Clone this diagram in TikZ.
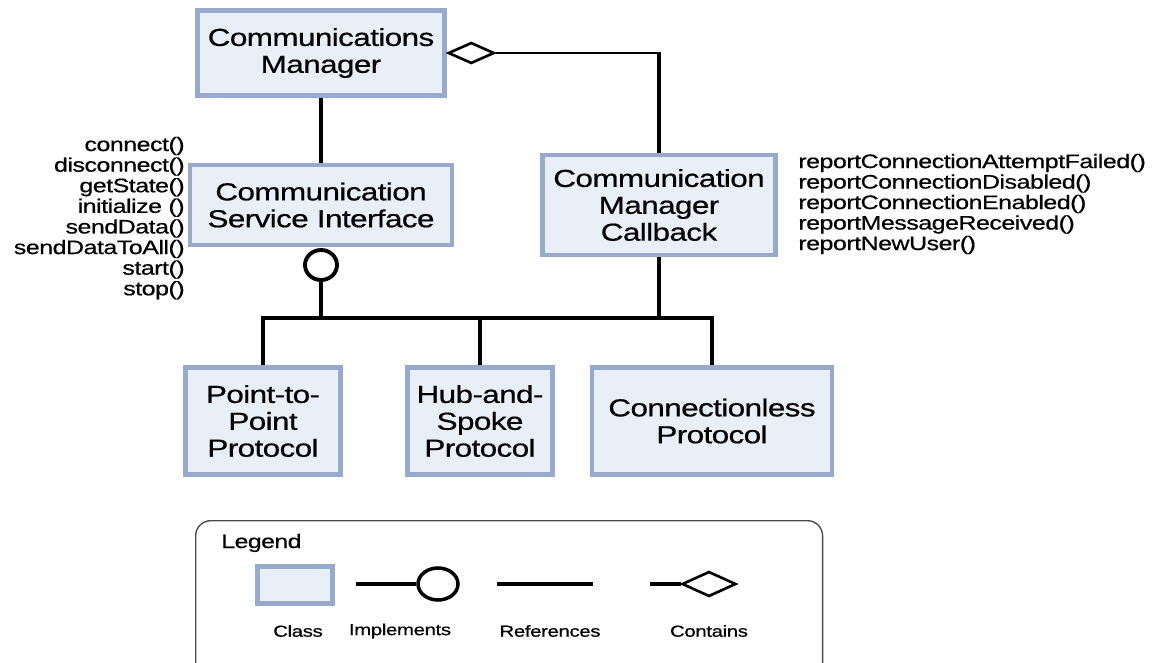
\documentclass[tikz,border=0pt]{standalone}
\usepackage{fontspec}
\setmainfont{Liberation Sans}[FakeStretch=1.28,LetterSpace=-2.5,FakeBold=0.6]
\usepackage{tikz}
\usetikzlibrary{shapes.geometric}

\definecolor{clsBorder}{RGB}{152,170,204}
\definecolor{clsFill}{RGB}{233,239,247}

\begin{document}
\begin{tikzpicture}[x=0.02cm,y=-0.02cm,
  cls/.style={draw=clsBorder,fill=clsFill,line width=2.8pt,align=center,inner sep=0pt,font=\fontsize{14}{15.3}\selectfont},
  ref/.style={line width=2.8pt},
  iface/.style={draw,ellipse,fill=white,inner sep=0pt,line width=2.2pt},
  agg/.style={draw,diamond,fill=white,inner sep=0pt,line width=1.5pt},
  meth/.style={inner sep=0pt,font=\fontsize{11.1}{12}\selectfont},
  lgd/.style={inner sep=0pt,font=\fontsize{9.1}{10}\selectfont}]
\useasboundingbox (0,0) rectangle (1161,663);

\node[cls,minimum width=4.94cm,minimum height=1.70cm] (cm) at (321,53) {Communications\\Manager};
\node[cls,minimum width=5.24cm,minimum height=1.60cm] (csi) at (321,205) {Communication\\Service Interface};
\node[cls,minimum width=4.66cm,minimum height=2.00cm] (cmc) at (659,205) {Communication\\Manager\\Callback};
\node[cls,minimum width=3.10cm,minimum height=2.14cm] (ptp) at (263,421) {Point-to-\\Point\\Protocol};
\node[cls,minimum width=2.90cm,minimum height=2.14cm] (has) at (480,421) {Hub-and-\\Spoke\\Protocol};
\node[cls,minimum width=4.80cm,minimum height=2.14cm] (cl) at (712,421) {Connectionless\\Protocol};

\node[iface,minimum width=0.64cm,minimum height=0.60cm] (csiport) at (321,265) {};
\node[agg,minimum width=0.92cm,minimum height=0.42cm,anchor=west] (cmagg) at (cm.east) {};
\coordinate (cmcorner) at (cmc.north |- cmagg.east);
\coordinate (bus) at (0,318);

\draw[ref] (cm.south) -- (csi.north);
\draw[line width=1.3pt] (cmagg.east) -- (cmcorner);
\draw[ref] ([yshift=0.65pt]cmcorner) -- (cmc.north);
\draw[ref] (csiport.south) -- (csiport.south |- bus);
\draw[ref] (cmc.south) -- (cmc.south |- bus);
\draw[ref] (ptp.north) -- (ptp.north |- bus) -- (cl.north |- bus) -- (cl.north);
\draw[ref] (has.north) -- (has.north |- bus);

\foreach \m [count=\i] in {connect(),disconnect(),getState(),initialize (),sendData(),sendDataToAll(),start(),stop()}
  \node[meth,anchor=east] (csim\i) at (185,{146+20.6*(\i-1)}) {\m};
\foreach \m [count=\i] in {reportConnectionAttemptFailed(),reportConnectionDisabled(),reportConnectionEnabled(),reportMessageReceived(),reportNewUser()}
  \node[meth,anchor=west] (cmcm\i) at (798,{163+20.5*(\i-1)}) {\m};

\node[draw=black!70,line width=0.8pt,rounded corners=0.3cm,minimum width=12.54cm,minimum height=3.4cm,anchor=north west] (legend) at (195,520) {};
\node[inner sep=0pt,anchor=west,font=\fontsize{11}{12}\selectfont] (legendtitle) at (221,543) {Legend};
\node[cls,minimum width=1.50cm,minimum height=0.74cm] (lcls) at (295,585) {};
\node[iface,line width=2pt,minimum width=0.80cm,minimum height=0.64cm] (limp) at (438,584) {};
\coordinate (limpstart) at (356,584);
\coordinate (lrefstart) at (497,584);
\coordinate (lrefend) at (593,584);
\node[agg,minimum width=1.08cm,minimum height=0.50cm] (lagg) at (709,584) {};
\coordinate (laggstart) at (650,584);
\draw[line width=2pt] (limpstart) -- (limp.west);
\draw[line width=2pt] (lrefstart) -- (lrefend);
\draw[line width=2pt] (laggstart) -- (lagg.west);
\node[lgd] (lclstext) at (298,631) {Class};
\node[lgd] (limptext) at (400,631) {Implements};
\node[lgd] (lreftext) at (550,631) {References};
\node[lgd] (laggtext) at (709,631) {Contains};
\end{tikzpicture}
\end{document}
